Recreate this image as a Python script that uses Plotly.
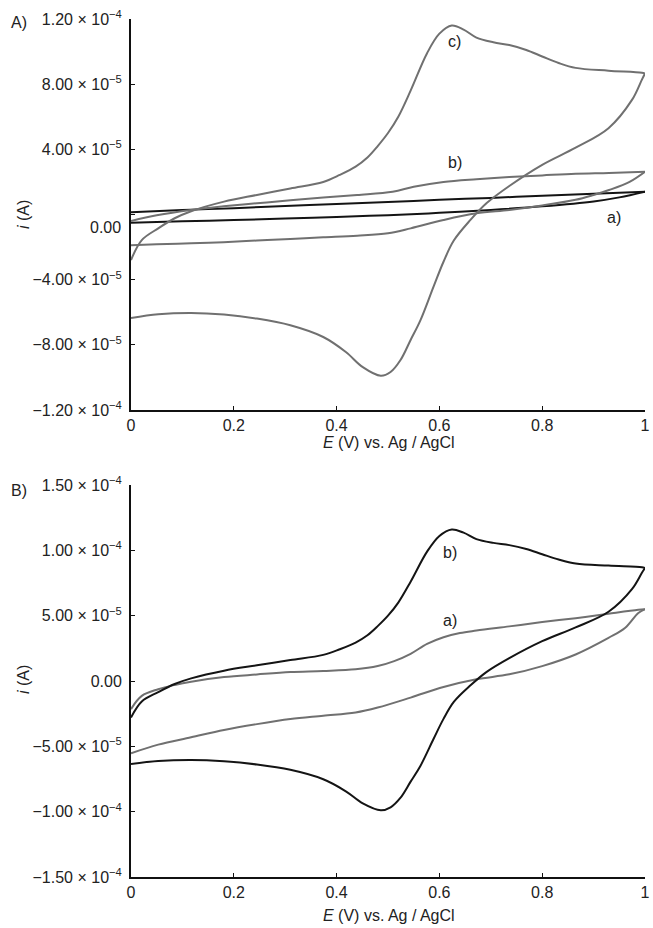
import plotly.graph_objects as go

# ---------------- data (current in units of 1e-5 A) ----------------
# Panel A, curve a) (black)
a_A_fwd_E = [0, 0.1, 0.2, 0.3, 0.4, 0.5, 0.6, 0.7, 0.8, 0.9, 1.0]
a_A_fwd_i = [0.14, 0.27, 0.39, 0.52, 0.65, 0.77, 0.9, 1.02, 1.15, 1.27, 1.40]
a_A_rev_E = [1.0, 0.95, 0.9, 0.8, 0.7, 0.6, 0.5, 0.4, 0.3, 0.2, 0.1, 0]
a_A_rev_i = [1.40, 1.05, 0.8, 0.5, 0.28, 0.1, -0.04, -0.15, -0.25, -0.34, -0.42, -0.5]

# Panel A, curve b) (gray)
b_A_fwd_E = [0, 0.05, 0.117, 0.18, 0.245, 0.31, 0.374, 0.44, 0.509, 0.55, 0.608, 0.672, 0.736, 0.8, 0.865, 0.93, 1.0]
b_A_fwd_i = [-0.4, -0.05, 0.28, 0.5, 0.69, 0.87, 1.04, 1.2, 1.4, 1.7, 2.0, 2.17, 2.3, 2.4, 2.5, 2.55, 2.62]
b_A_rev_E = [1.0, 0.97, 0.93, 0.9, 0.865, 0.8, 0.736, 0.672, 0.608, 0.544, 0.5, 0.44, 0.374, 0.31, 0.245, 0.18, 0.117, 0.05, 0]
b_A_rev_i = [2.62, 2.0, 1.5, 1.2, 0.9, 0.55, 0.28, 0.07, -0.34, -0.85, -1.15, -1.3, -1.4, -1.5, -1.6, -1.7, -1.77, -1.83, -1.88]

# Panel A curve c) / Panel B curve b) (same electrode)
c_fwd_E = [0, 0.021, 0.053, 0.085, 0.117, 0.181, 0.245, 0.31, 0.374, 0.406, 0.437, 0.46, 0.48, 0.5, 0.52,
           0.544, 0.576, 0.60, 0.624, 0.647, 0.672, 0.705, 0.736, 0.769, 0.80, 0.832, 0.865, 0.929, 0.994, 1.0]
c_fwd_i = [-2.8, -1.57, -0.85, -0.23, 0.2, 0.79, 1.2, 1.6, 2.0, 2.43, 2.94, 3.5, 4.2, 5.0, 6.0,
           7.6, 9.9, 11.1, 11.6, 11.35, 10.86, 10.57, 10.4, 10.1, 9.7, 9.3, 9.0, 8.83, 8.7, 8.65]
c_rev_E = [1.0, 0.994, 0.975, 0.929, 0.865, 0.80, 0.736, 0.692, 0.66, 0.628, 0.608, 0.589, 0.563, 0.544,
           0.524, 0.505, 0.486, 0.451, 0.418, 0.374, 0.31, 0.245, 0.181, 0.117, 0.053, 0]
c_rev_i = [8.65, 8.28, 7.05, 5.3, 4.1, 3.05, 1.75, 0.7, -0.35, -1.6, -2.9, -4.4, -6.5, -7.7,
           -8.95, -9.67, -9.9, -9.37, -8.44, -7.52, -6.8, -6.39, -6.14, -6.04, -6.12, -6.35]

# Panel B, curve a) (gray)
a_B_fwd_E = [0, 0.021, 0.053, 0.085, 0.117, 0.181, 0.245, 0.31, 0.374, 0.437, 0.48, 0.512, 0.544,
             0.576, 0.608, 0.64, 0.672, 0.736, 0.80, 0.865, 0.929, 0.987, 1.0]
a_B_fwd_i = [-2.15, -1.14, -0.63, -0.3, -0.05, 0.3, 0.5, 0.68, 0.76, 0.89, 1.14, 1.52, 2.08,
             2.84, 3.35, 3.67, 3.86, 4.18, 4.51, 4.81, 5.15, 5.45, 5.5]
a_B_rev_E = [1.0, 0.987, 0.961, 0.929, 0.865, 0.80, 0.736, 0.672, 0.608, 0.544, 0.48, 0.437, 0.374,
             0.31, 0.245, 0.181, 0.117, 0.053, 0]
a_B_rev_i = [5.5, 5.2, 4.05, 3.3, 2.03, 1.14, 0.51, 0.13, -0.46, -1.27, -2.03, -2.41, -2.66,
             -2.91, -3.3, -3.75, -4.31, -4.87, -5.53]

# axis ticks
x_tickvals = [0, 0.2, 0.4, 0.6, 0.8, 1.0]
x_ticktext = ["0", "0.2", "0.4", "0.6", "0.8", "1"]
yA_tickvals = [-1.2e-4, -8e-5, -4e-5, 0, 4e-5, 8e-5, 1.2e-4]
yA_ticktext = ["−1.20 × 10<sup>−4</sup>", "−8.00 × 10<sup>−5</sup>", "−4.00 × 10<sup>−5</sup>", "",
               "4.00 × 10<sup>−5</sup>", "8.00 × 10<sup>−5</sup>", "1.20 × 10<sup>−4</sup>"]
yA_zero_label = "0.00"   # drawn slightly below its tick, as in the original figure
yB_tickvals = [-1.5e-4, -1e-4, -5e-5, 0, 5e-5, 1e-4, 1.5e-4]
yB_ticktext = ["−1.50 × 10<sup>−4</sup>", "−1.00 × 10<sup>−4</sup>", "−5.00 × 10<sup>−5</sup>", "0.00",
               "5.00 × 10<sup>−5</sup>", "1.00 × 10<sup>−4</sup>", "1.50 × 10<sup>−4</sup>"]

GRAY = "#707070"
BLACK = "#141414"
FONT = "Liberation Sans, Arial, sans-serif"

def sc(v):
    return [x * 1e-5 for x in v]

fig = go.Figure()

def add(E, i, color, xa, ya):
    fig.add_trace(go.Scatter(x=E, y=sc(i), mode="lines", xaxis=xa, yaxis=ya,
                             line=dict(color=color, width=2, shape="spline", smoothing=1.0),
                             showlegend=False, hoverinfo="skip"))

# Panel A
add(a_A_fwd_E, a_A_fwd_i, BLACK, "x", "y")
add(a_A_rev_E, a_A_rev_i, BLACK, "x", "y")
add(b_A_fwd_E, b_A_fwd_i, GRAY, "x", "y")
add(b_A_rev_E, b_A_rev_i, GRAY, "x", "y")
add(c_fwd_E, c_fwd_i, GRAY, "x", "y")
add(c_rev_E, c_rev_i, GRAY, "x", "y")
# Panel B
add(a_B_fwd_E, a_B_fwd_i, GRAY, "x2", "y2")
add(a_B_rev_E, a_B_rev_i, GRAY, "x2", "y2")
add(c_fwd_E, c_fwd_i, BLACK, "x2", "y2")
add(c_rev_E, c_rev_i, BLACK, "x2", "y2")

W, H = 653, 928
L, R, T = 131, 3, 19
B = H - 877
ph = H - T - B
pw = W - L - R

def py(px):
    return (H - B - px) / ph

def pxx(px):
    return (px - L) / pw

axis_common = dict(showline=True, linecolor="#111", linewidth=2, ticks="inside", ticklen=4,
                   tickwidth=1, tickcolor="#111", showgrid=False, zeroline=False,
                   tickfont=dict(family=FONT, size=16, color="#222"), mirror=False)

fig.update_layout(
    width=W, height=H, margin=dict(l=L, r=R, t=T, b=B),
    paper_bgcolor="white", plot_bgcolor="white",
    font=dict(family=FONT, size=16, color="#222"),
    xaxis=dict(domain=[0, 1], anchor="y", range=[0, 1], tickvals=x_tickvals, ticktext=x_ticktext,
               ticklabeloverflow="allow", **axis_common),
    yaxis=dict(domain=[py(410), 1.0], anchor="x", range=[-1.2e-4, 1.2e-4], tickvals=yA_tickvals,
               ticktext=yA_ticktext, ticklabelstandoff=4, **axis_common),
    xaxis2=dict(domain=[0, 1], anchor="y2", range=[0, 1], tickvals=x_tickvals, ticktext=x_ticktext,
                ticklabeloverflow="allow", **axis_common),
    yaxis2=dict(domain=[0, py(485)], anchor="x2", range=[-1.5e-4, 1.5e-4], tickvals=yB_tickvals,
                ticktext=yB_ticktext, ticklabelstandoff=4, **axis_common),
)

ann = []
# panel labels
ann.append(dict(text="A)", x=pxx(8), y=py(22), xref="paper", yref="paper", xanchor="left", yanchor="middle", showarrow=False))
ann.append(dict(text="B)", x=pxx(8), y=py(490), xref="paper", yref="paper", xanchor="left", yanchor="middle", showarrow=False))
# offset zero label of panel A
ann.append(dict(text=yA_zero_label, x=pxx(123), y=py(227), xref="paper", yref="paper", xanchor="right",
                yanchor="middle", showarrow=False, font=dict(size=16, color="#222")))
# axis titles
for ytitle_px, xtitle_px in [(215, 442), (680, 915)]:
    ann.append(dict(text="<i>i</i> (A)", x=pxx(22), y=py(ytitle_px), xref="paper", yref="paper",
                    textangle=-90, xanchor="center", yanchor="middle", showarrow=False))
    ann.append(dict(text="<i>E</i> (V) vs. Ag / AgCl", x=pxx(392), y=py(xtitle_px), xref="paper", yref="paper",
                    xanchor="center", yanchor="middle", showarrow=False))
# curve labels
ann.append(dict(text="c)", x=0.63, y=10.6e-5, xref="x", yref="y", showarrow=False))
ann.append(dict(text="b)", x=0.63, y=3.2e-5, xref="x", yref="y", showarrow=False))
ann.append(dict(text="a)", x=0.94, y=-0.2e-5, xref="x", yref="y", showarrow=False))
ann.append(dict(text="b)", x=0.62, y=9.8e-5, xref="x2", yref="y2", showarrow=False))
ann.append(dict(text="a)", x=0.62, y=4.6e-5, xref="x2", yref="y2", showarrow=False))
fig.update_layout(annotations=ann)

# remove the browser's default page margin so the 653x928 figure fills the window exactly
fig.write_html("out.html", config={"displayModeBar": False},
               post_script="document.body.style.margin='0';document.body.style.overflow='hidden';")
